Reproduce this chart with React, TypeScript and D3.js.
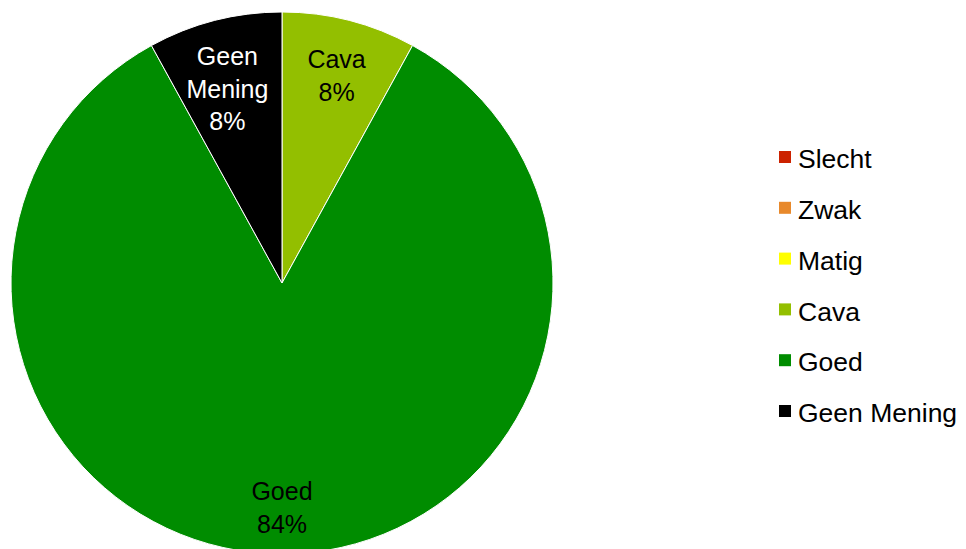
import React, { useEffect, useRef } from 'react';
import * as d3 from 'd3';

const categories = ['Slecht', 'Zwak', 'Matig', 'Cava', 'Goed', 'Geen Mening'];
const values = [0, 0, 0, 2, 21, 2];
const colors = ['#cc2200', '#e8892b', '#ffff00', '#93bf00', '#008c00', '#000000'];
const labelColors = ['#000', '#000', '#000', '#000', '#000', '#fff'];
const labelLines = [['Slecht'], ['Zwak'], ['Matig'], ['Cava'], ['Goed'], ['Geen', 'Mening']];

export default function App() {
  const svgRef = useRef<SVGSVGElement>(null);

  useEffect(() => {
    const w = 966;
    const h = 549;
    const svg = d3.select(svgRef.current).attr('width', w).attr('height', h);
    svg.selectAll('*').remove();

    const cx = 282;
    const cy = 283;
    const r = 271;
    const total = d3.sum(values);

    const data = categories.map((c, i) => ({ c, v: values[i], i }));
    const pie = d3
      .pie<any>()
      .value((d) => d.v)
      .sort(null);
    // clockwise from top: Cava, Goed, Geen Mening
    const arcs = pie(data);
    const arc = d3.arc<any>().innerRadius(0).outerRadius(r);
    const labelArc = d3.arc<any>().innerRadius(r * 0.81).outerRadius(r * 0.81);

    const g = svg.append('g').attr('transform', `translate(${cx},${cy})`);
    g.selectAll('path')
      .data(arcs.filter((a) => a.data.v > 0))
      .join('path')
      .attr('d', arc)
      .attr('fill', (d) => colors[d.data.i])
      .attr('stroke', '#ffffff')
      .attr('stroke-width', 1);

    const lh = 32.5;
    arcs
      .filter((a) => a.data.v > 0)
      .forEach((a) => {
        const [x, y] = labelArc.centroid(a);
        const lines = [...labelLines[a.data.i], d3.format('.0%')(a.data.v / total)];
        const y0 = y - 11 - (lines.length - 2) * 3;
        const t = g
          .append('text')
          .attr('text-anchor', 'middle')
          .attr('font-family', 'Liberation Sans, Arial, sans-serif')
          .attr('font-size', 25)
          .attr('fill', labelColors[a.data.i]);
        lines.forEach((l, k) => {
          t.append('tspan')
            .attr('x', x)
            .attr('y', y0 + k * lh)
            .attr('dy', '0.35em')
            .text(l);
        });
      });

    // legend
    const ly = d3
      .scalePoint<string>()
      .domain(categories)
      .range([157, 411]);
    const legend = svg
      .append('g')
      .selectAll('g')
      .data(categories)
      .join('g')
      .attr('transform', (d) => `translate(779,${ly(d)})`);
    legend
      .append('rect')
      .attr('x', 0)
      .attr('y', -6)
      .attr('width', 12)
      .attr('height', 12)
      .attr('fill', (d, i) => colors[i]);
    legend
      .append('text')
      .attr('x', 19)
      .attr('y', 2)
      .attr('dy', '0.35em')
      .attr('font-family', 'Liberation Sans, Arial, sans-serif')
      .attr('font-size', 26.5)
      .attr('fill', '#000')
      .text((d) => d);
  }, []);

  return (
    <div style={{ position: 'absolute', left: 0, top: 0 }}>
      <svg ref={svgRef} style={{ display: 'block' }}></svg>
    </div>
  );
}
